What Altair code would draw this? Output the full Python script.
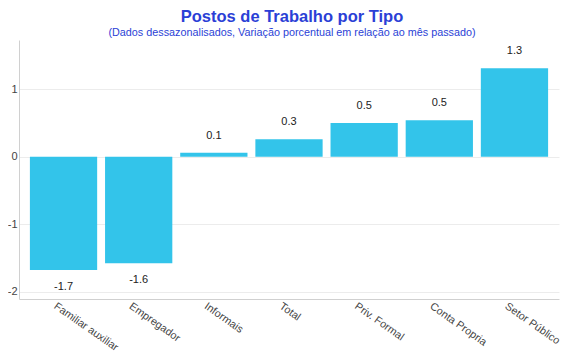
import altair as alt
import pandas as pd

categories = ["Familiar auxiliar", "Empregador", "Informais", "Total",
              "Priv. Formal", "Conta Propria", "Setor Público"]
values = [-1.68, -1.58, 0.06, 0.26, 0.50, 0.54, 1.31]
y_grid = [-2, -1.5, -1, -0.5, 0, 0.5, 1, 1.5]

df = pd.DataFrame({"cat": categories, "val": values})

FONT = "Liberation Sans"

x = alt.X("cat:N", sort=categories, title=None,
          scale=alt.Scale(paddingInner=0.105, paddingOuter=0.145),
          axis=alt.Axis(labelAngle=35, labelAlign="left", labelBaseline="top",
                        ticks=False, domain=True, domainColor="#d0d0d0",
                        labelColor="#444444", labelFontSize=10.8, labelFont=FONT,
                        labelPadding=1, labelOffset=-5, grid=False))
y = alt.Y("val:Q", title=None,
          scale=alt.Scale(domain=[-2.11, 1.73], nice=False, zero=False),
          axis=alt.Axis(values=y_grid,
                        labelExpr="datum.value % 1 == 0 ? '' + datum.value : ''",
                        ticks=False, domain=True, domainColor="#d0d0d0",
                        gridColor="#ececec", labelColor="#444444",
                        labelFontSize=11, labelFont=FONT, labelPadding=2))

bars = alt.Chart(df).mark_bar(color="#33C4EA").encode(x=x, y=y)

base = alt.Chart(df).transform_calculate(
    lbl="'' + (round(datum.val * 10) / 10)"
)
pos = base.transform_filter("datum.val >= 0").mark_text(
    baseline="middle", dy=-17, fontSize=11, font=FONT, color="#222222"
).encode(x=alt.X("cat:N", sort=categories), y="val:Q", text="lbl:N")
neg = base.transform_filter("datum.val < 0").mark_text(
    baseline="middle", dy=17, fontSize=11, font=FONT, color="#222222"
).encode(x=alt.X("cat:N", sort=categories), y="val:Q", text="lbl:N")

chart = alt.layer(bars, pos, neg).properties(
    width=540, height=259,
    autosize=alt.AutoSizeParams(type="none"),
    padding={"left": 11, "top": 32, "right": 3, "bottom": 53},
    title=alt.TitleParams(
        text="Postos de Trabalho por Tipo",
        subtitle="(Dados dessazonalisados, Variação porcentual em relação ao mês passado)",
        anchor="middle", dx=3, offset=2,
        font=FONT, fontSize=16.5, fontWeight="bold", color="#2B3FD6",
        subtitleFont=FONT, subtitleFontSize=10.8, subtitleColor="#2B3FD6",
        subtitlePadding=2,
    ),
).configure_view(stroke=None)

chart.save("out.html", embed_options={"renderer": "svg", "actions": False})
